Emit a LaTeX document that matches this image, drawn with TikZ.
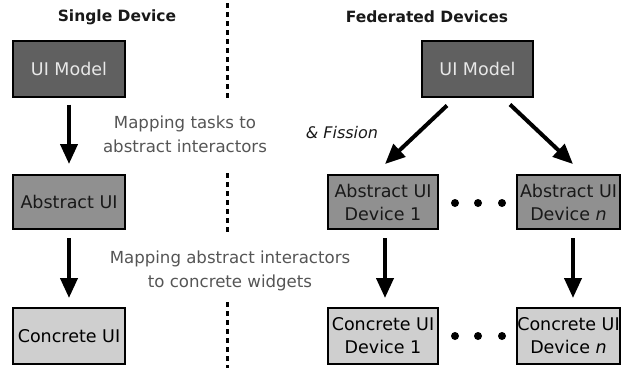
\documentclass[tikz,border=0pt]{standalone}
\usepackage{fontspec}
\setmainfont{DejaVu Sans}
\usetikzlibrary{arrows.meta,calc}
\definecolor{darkbox}{HTML}{606060}
\definecolor{midbox}{HTML}{909090}
\definecolor{lightbox}{HTML}{CFCFCF}
\definecolor{labelgray}{HTML}{555555}
\definecolor{modeltext}{HTML}{E8E8E8}
\tikzset{
  box/.style={draw=black, line width=2pt, minimum height=56pt, inner sep=0pt, align=center,
    font=\fontsize{17.5}{23}\selectfont},
  modelbox/.style={box, fill=darkbox, text=modeltext},
  absbox/.style={box, fill=midbox, text=black!90},
  conbox/.style={box, fill=lightbox, text=black},
  flow/.style={line width=4pt, -{Triangle[width=17pt,length=20pt]}},
  sep/.style={line width=3pt, dash pattern=on 5pt off 4pt},
  head/.style={font=\fontsize{15.5}{18}\selectfont\bfseries, text=black!90},
  lbl/.style={font=\fontsize{16.6}{24}\selectfont, text=labelgray, align=center},
  dot/.style={fill=black}
}
\begin{document}
\begin{tikzpicture}[x=1pt,y=-1pt]
\useasboundingbox (0,0) rectangle (629,368);
% separator
\draw[sep] (227,3) -- (227,99);
\draw[sep] (227,173) -- (227,234);
\draw[sep] (227,302) -- (227,368);
% headers
\node[head] (h1) at (117,17) {Single Device};
\node[head] (h2) at (427,17) {Federated Devices};
% left column
\node[modelbox, minimum width=112pt] (lm) at (69,68.5) {UI Model};
\node[absbox, minimum width=112pt, minimum height=54pt] (la) at (69,202) {Abstract UI};
\node[conbox, minimum width=112pt] (lc) at (69,336) {Concrete UI};
% right column
\node[modelbox, minimum width=111pt] (rm) at (477.5,68.5) {UI Model};
\node[absbox, minimum width=110pt, minimum height=54pt] (ra1) at (383,202) {Abstract UI\\Device 1};
\node[absbox, minimum width=103pt, minimum height=54pt] (ran) at (568.5,202) {Abstract UI\\Device \textit{n}};
\node[conbox, minimum width=110pt] (rc1) at (383,336) {Concrete UI\\Device 1};
\node[conbox, minimum width=103pt] (rcn) at (568.5,336) {Concrete UI\\Device \textit{n}};
% labels
\node[lbl] (l1) at (185,134) {Mapping tasks to\\abstract interactors};
\node[lbl] (l2) at (230,271) {Mapping abstract interactors\\to concrete widgets};
\node[font=\fontsize{16}{20}\selectfont\itshape, text=black!90] (fis) at (342,133) {\& Fission};
% arrows
\draw[flow] ($(lm.south)+(0,7)$) -- ($(la.north)+(0,-10)$);
\draw[flow] ($(la.south)+(0,8)$) -- ($(lc.north)+(0,-9)$);
\draw[flow] ($(rm.south)+(-30.5,8)$) -- ($(ra1.north)+(2,-10)$);
\draw[flow] ($(rm.south)+(32.5,7)$) -- ($(ran.north)+(4.5,-10)$);
\draw[flow] ($(ra1.south)+(2,8)$) -- ($(rc1.north)+(2,-9)$);
\draw[flow] ($(ran.south)+(4.5,8)$) -- ($(rcn.north)+(4.5,-9)$);
% ellipsis dots
\foreach \x in {455,478,502} {
  \fill[dot] (\x,203) circle (4);
  \fill[dot] (\x,336) circle (4);
}
\end{tikzpicture}
\end{document}
